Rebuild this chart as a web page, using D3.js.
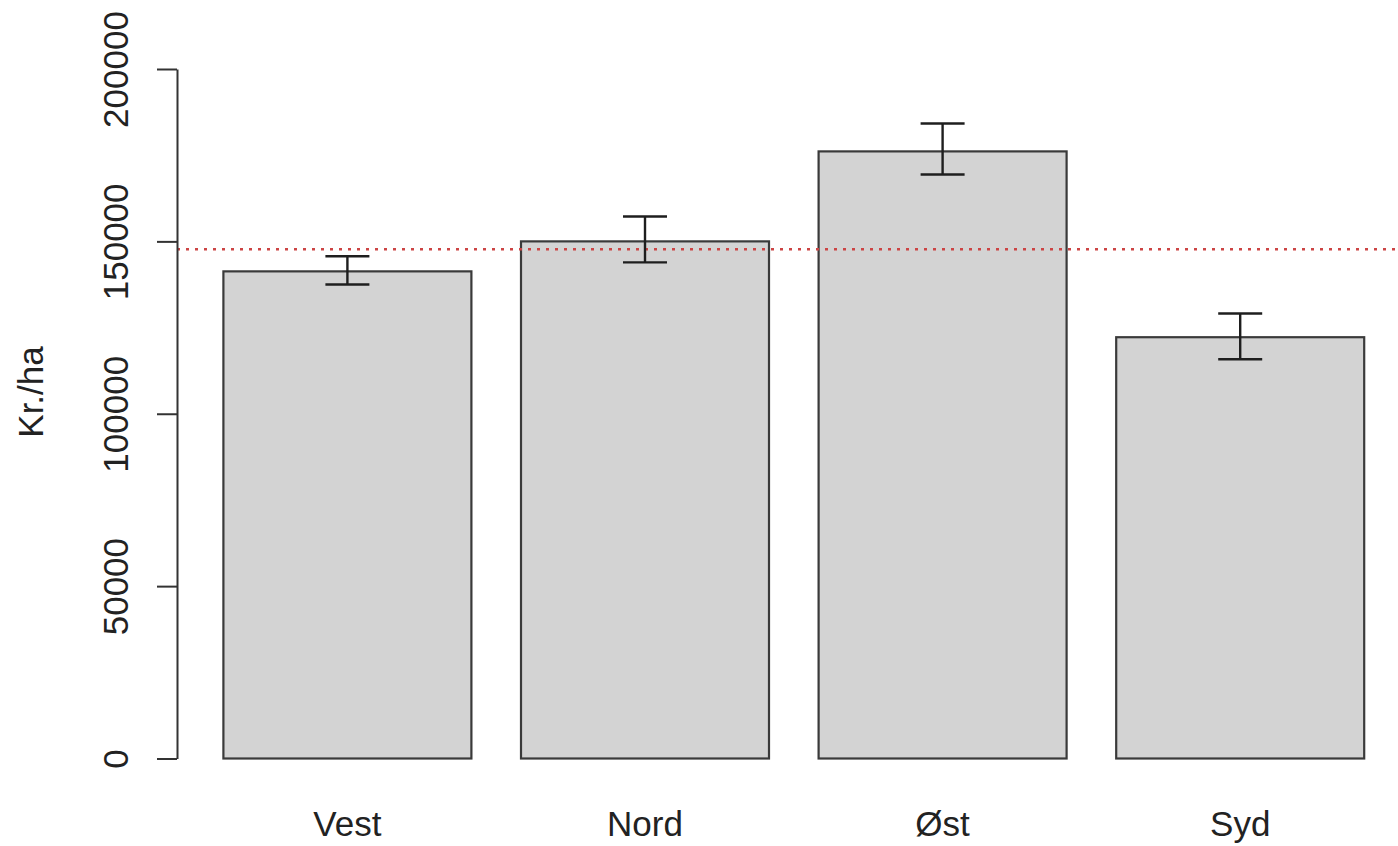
<!DOCTYPE html>
<html>
<head>
<meta charset="utf-8">
<script src="https://cdn.jsdelivr.net/npm/d3@7"></script>
<style>
  html, body { margin: 0; padding: 0; background: #ffffff; }
  svg { display: block; }
  text { font-family: "Liberation Sans", Arial, sans-serif; fill: #222; }
</style>
</head>
<body>
<svg id="chart" width="1398" height="846"></svg>
<script>
// ---- data ----
const categories = ["Vest", "Nord", "Øst", "Syd"];
const means      = [141300, 150000, 176100, 122200];
const lowerCI    = [137500, 143900, 169400, 115800];
const upperCI    = [145700, 157200, 184200, 129100];
const overallMean = 147700;
const yTicks = [0, 50000, 100000, 150000, 200000];
const yLabel = "Kr./ha";

// ---- layout ----
const svg = d3.select("#chart");
const axisX = 177;

const y = d3.scaleLinear().domain([0, 200000]).range([758.5, 69]);
const x = d3.scaleBand()
  .domain(categories)
  .range([198.6, 1389.0])
  .paddingInner(1 / 6)
  .paddingOuter(1 / 12);

const rows = categories.map((c, i) => ({ c, m: means[i], lo: lowerCI[i], hi: upperCI[i] }));

// bars
svg.append("g").selectAll("rect").data(rows).join("rect")
  .attr("x", d => x(d.c))
  .attr("y", d => y(d.m))
  .attr("width", x.bandwidth())
  .attr("height", d => y(0) - y(d.m))
  .attr("fill", "#d3d3d3")
  .attr("stroke", "#3a3a3a")
  .attr("stroke-width", 2.2);

// reference line (overall mean)
svg.append("line")
  .attr("x1", axisX).attr("x2", 1410)
  .attr("y1", y(overallMean)).attr("y2", y(overallMean))
  .attr("stroke", "#cc4444")
  .attr("stroke-width", 2.6)
  .attr("stroke-dasharray", "3,6");

// error bars
const eb = svg.append("g").attr("stroke", "#1e1e1e").attr("stroke-width", 2.4);
rows.forEach(d => {
  const cx = x(d.c) + x.bandwidth() / 2;
  eb.append("line").attr("x1", cx).attr("x2", cx).attr("y1", y(d.hi)).attr("y2", y(d.lo));
  eb.append("line").attr("x1", cx - 22).attr("x2", cx + 22).attr("y1", y(d.hi)).attr("y2", y(d.hi));
  eb.append("line").attr("x1", cx - 22).attr("x2", cx + 22).attr("y1", y(d.lo)).attr("y2", y(d.lo));
});

// y axis
const yAxis = d3.axisLeft(y).tickValues(yTicks).tickSize(20).tickSizeOuter(0).tickFormat(d3.format("d"));
const gy = svg.append("g").attr("transform", `translate(${axisX},0)`).call(yAxis);
gy.select(".domain").attr("stroke", "#333").attr("stroke-width", 2);
gy.selectAll(".tick line").attr("stroke", "#333").attr("stroke-width", 2);
gy.selectAll(".tick text")
  .attr("x", null).attr("dy", null)
  .attr("transform", "translate(-49,0) rotate(-90)")
  .attr("text-anchor", "middle")
  .style("font-family", "'Liberation Sans', Arial, sans-serif")
  .style("font-size", "35px")
  .attr("fill", "#222");

// category labels
svg.append("g").selectAll("text").data(categories).join("text")
  .attr("x", d => x(d) + x.bandwidth() / 2)
  .attr("y", 836)
  .attr("text-anchor", "middle")
  .style("font-size", "35px")
  .text(d => d);

// y label
svg.append("text")
  .attr("transform", "translate(43,392) rotate(-90)")
  .attr("text-anchor", "middle")
  .style("font-size", "35px")
  .text(yLabel);
</script>
</body>
</html>
